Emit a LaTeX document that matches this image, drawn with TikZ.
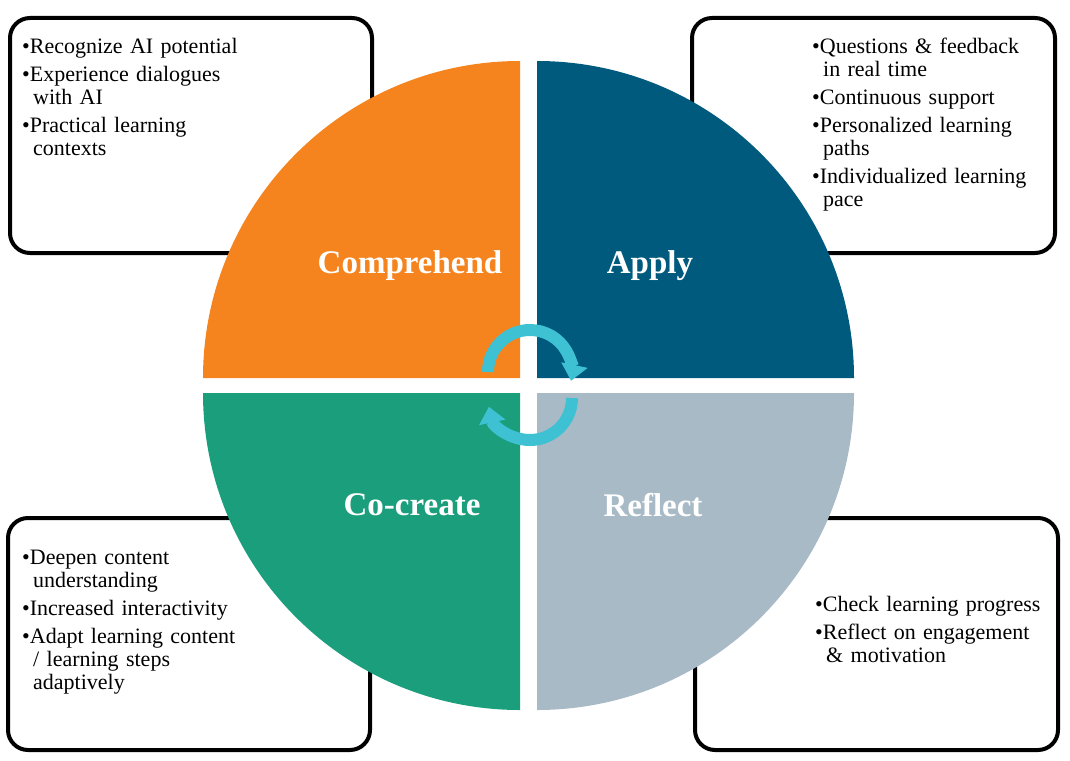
\documentclass[tikz,border=0pt]{standalone}
\usepackage{fontspec}
\setmainfont{Liberation Serif}
\usetikzlibrary{arrows.meta}
\definecolor{cOrange}{HTML}{F5841F}
\definecolor{cBlue}{HTML}{005A7E}
\definecolor{cTeal}{HTML}{1A9E7C}
\definecolor{cGrey}{HTML}{A9BAC7}
\definecolor{cCycle}{HTML}{3EC1D3}
\newcommand\bul[1]{\par\hangindent=11pt\hangafter=1\noindent\textbullet#1\par\vspace{5pt}}
\begin{document}
\begin{tikzpicture}[
   x=1pt, y=-1pt,
   box/.style = {draw, line width=4pt, rounded corners=20pt, fill=white},
   lst/.style = {anchor=north west, inner sep=0pt, text width=#1,
                 align=left, font=\fontsize{22}{23}\selectfont},
   ttl/.style = {text=white, font=\fontsize{33}{36}\selectfont\bfseries},
   cyc/.style = {draw=cCycle, line width=12pt,
                 -{Triangle[length=16pt,width=26pt]}}
                        ]
\useasboundingbox (0,0) rectangle (1070,760);
%
\draw[box] (10,18) rectangle (372,253);
\draw[box] (692,18) rectangle (1055,253);
\draw[box] (8,518) rectangle (370,750);
\draw[box] (695,518) rectangle (1058,750);
%
\fill[cOrange] (520,378) -- ++(-317,0) arc[start angle=180, end angle=270, radius=317] -- cycle;
\fill[cBlue] (537,378) -- ++(317,0) arc[start angle=0, end angle=-90, radius=317] -- cycle;
\fill[cTeal] (520,393) -- ++(-317,0) arc[start angle=180, end angle=90, radius=317] -- cycle;
\fill[cGrey] (537,393) -- ++(317,0) arc[start angle=0, end angle=90, radius=317] -- cycle;
%
\node (tComp) [ttl] at (410,266) {Comprehend};
\node (tAppl) [ttl] at (650,266) {Apply};
\node (tCocr) [ttl] at (412,505) {Co-create};
\node (tRefl) [ttl] at (653,505) {Reflect};
%
\draw[cyc] (488,372) arc[start angle=180, end angle=372, radius=42];
\draw[cyc] (572,398) arc[start angle=0, end angle=168, radius=42];
%
\node (lComp) [lst=330pt] at (22,30) {%
  \bul{Recognize AI potential}
  \bul{Experience dialogues\newline with AI}
  \bul{Practical learning\newline contexts}};
\node (lAppl) [lst=240pt] at (812,30) {%
  \bul{Questions \& feedback\newline in real time}
  \bul{Continuous support}
  \bul{Personalized learning\newline paths}
  \bul{Individualized learning\newline pace}};
\node (lCocr) [lst=240pt] at (22,541) {%
  \bul{Deepen content\newline understanding}
  \bul{Increased interactivity}
  \bul{Adapt learning content\newline / learning steps\newline adaptively}};
\node (lRefl) [lst=240pt] at (815,588) {%
  \bul{Check learning progress}
  \bul{Reflect on engagement\newline \& motivation}};
\end{tikzpicture}
\end{document}
